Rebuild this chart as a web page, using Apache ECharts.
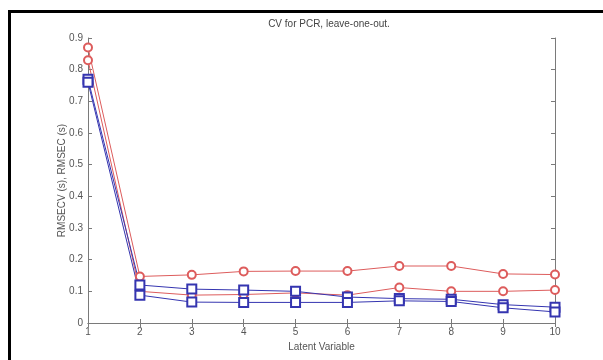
<!DOCTYPE html>
<html>
<head>
<meta charset="utf-8">
<script src="https://cdn.jsdelivr.net/npm/echarts@6/dist/echarts.min.js"></script>
<style>
  html, body { margin: 0; padding: 0; background: #fff; }
  #chart { width: 603px; height: 360px; }
  /* black frame of the scanned figure */
  #frame {
    position: absolute; left: 8px; top: 10px; width: 600px; height: 360px;
    border-left: 3px solid #000; border-top: 3px solid #000; pointer-events: none;
  }
</style>
</head>
<body>
<div id="chart"></div>
<div id="frame"></div>
<script>
// latent variables on the x axis
var latent = [1, 2, 3, 4, 5, 6, 7, 8, 9, 10];
// RMSECV curves (red, circles)
var cvUpper = [0.87, 0.147, 0.152, 0.163, 0.164, 0.164, 0.18, 0.18, 0.155, 0.153];
var cvLower = [0.83, 0.1, 0.088, 0.09, 0.095, 0.088, 0.112, 0.1, 0.1, 0.104];
// RMSEC curves (blue, squares)
var calUpper = [0.77, 0.12, 0.107, 0.104, 0.1, 0.082, 0.077, 0.075, 0.058, 0.05];
var calLower = [0.76, 0.088, 0.066, 0.065, 0.065, 0.065, 0.07, 0.068, 0.048, 0.035];
var yTicks = [0, 0.1, 0.2, 0.3, 0.4, 0.5, 0.6, 0.7, 0.8, 0.9];

var RED = '#dd5c5c';
var BLUE = '#3535b0';
var AXIS = '#7a7a7a';
var TEXT = '#555';
var FONT = '"Liberation Sans", Arial, sans-serif';

function pairs(vals) {
	return latent.map(function (x, i) { return [x, vals[i]]; });
}

function makeSeries(vals, color, symbol, size) {
	return {
		type: 'line',
		data: pairs(vals),
		symbol: symbol,
		symbolSize: size,
		clip: false,
		lineStyle: { color: color, width: 1 },
		itemStyle: { color: color, borderColor: color, borderWidth: 1 },
		emphasis: { disabled: true }
	};
}

var chart = echarts.init(document.getElementById('chart'));
chart.setOption({
	animation: false,
	title: {
		text: 'CV for PCR, leave-one-out.',
		left: 324,
		top: 14,
		textAlign: 'center',
		textStyle: { fontSize: 10, fontWeight: 'normal', color: '#444', fontFamily: FONT }
	},
	grid: { left: 88, right: 48, top: 38, bottom: 37 },
	xAxis: [
		{
			type: 'value',
			min: 1,
			max: 10,
			interval: 1,
			name: 'Latent Variable',
			nameLocation: 'middle',
			nameGap: 19,
			nameMoveOverlap: false,
			nameTextStyle: { fontSize: 10, color: TEXT, fontFamily: FONT },
			axisLine: { show: true, lineStyle: { color: AXIS } },
			axisTick: { show: true, inside: true, length: 4, lineStyle: { color: AXIS } },
			axisLabel: { fontSize: 10, color: TEXT, margin: 4, fontFamily: FONT },
			splitLine: { show: false }
		},
		{
			type: 'value',
			position: 'top',
			min: 1,
			max: 10,
			interval: 1,
			axisLine: { show: true, lineStyle: { color: AXIS } },
			axisTick: { show: true, inside: true, length: 4, lineStyle: { color: AXIS } },
			axisLabel: { show: false },
			splitLine: { show: false }
		}
	],
	yAxis: [
		{
			type: 'value',
			min: 0,
			max: 0.9,
			interval: 0.1,
			name: 'RMSECV (s), RMSEC (s)',
			nameLocation: 'middle',
			nameGap: 21,
			nameMoveOverlap: false,
			nameTextStyle: { fontSize: 10, color: TEXT, fontFamily: FONT },
			axisLine: { show: true, lineStyle: { color: AXIS } },
			axisTick: { show: true, inside: true, length: 4, lineStyle: { color: AXIS } },
			axisLabel: {
				fontSize: 10, color: TEXT, margin: 5, fontFamily: FONT,
				formatter: function (v) {
					var t = yTicks.find(function (k) { return Math.abs(k - v) < 1e-6; });
					return t === 0 ? '0' : String(t);
				}
			},
			splitLine: { show: false }
		},
		{
			type: 'value',
			position: 'right',
			min: 0,
			max: 0.9,
			interval: 0.1,
			axisLine: { show: true, lineStyle: { color: AXIS } },
			axisTick: { show: true, inside: true, length: 4, lineStyle: { color: AXIS } },
			axisLabel: { show: false },
			splitLine: { show: false }
		}
	],
	series: [
		makeSeries(cvUpper, RED, 'emptyCircle', 8),
		makeSeries(cvLower, RED, 'emptyCircle', 8),
		makeSeries(calUpper, BLUE, 'emptyRect', 9),
		makeSeries(calLower, BLUE, 'emptyRect', 9)
	]
});
</script>
</body>
</html>
